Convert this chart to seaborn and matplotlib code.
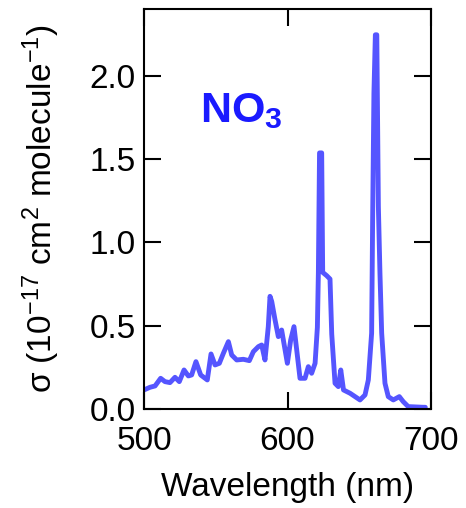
import matplotlib
matplotlib.use('Agg')
import matplotlib.pyplot as plt
import seaborn as sns
import pandas as pd

# NO3 absorption cross section (1e-17 cm2/molecule)
wavelength = [500, 504.2, 507.7, 511.6, 514.6, 518.1, 521.6, 524.6, 527.9, 530.9,
              533.2, 536.2, 539.5, 544.1, 546.7, 549.5, 552.5, 555.3, 558.8, 561.1,
              564.6, 569.2, 573.4, 576.2, 579.7, 582.0, 584.3, 586.6, 587.8, 589.0,
              591.3, 593.6, 595.9, 598.3, 599.9, 602.2, 604.5, 606.4, 608.7, 612.2,
              614.5, 616.8, 619.2, 620.8, 621.5, 622.3, 623.8, 624.5, 627.3, 629.6,
              630.8, 633.1, 635.4, 637.1, 639.0, 643.6, 650.5, 654.0, 656.3, 658.6,
              659.3, 660.2, 661.2, 662.2, 663.3, 664.4, 665.6, 667.9, 670.2, 673.7,
              677.9, 680.6, 684.1, 694.5, 696.0]
sigma = [0.114, 0.130, 0.138, 0.184, 0.164, 0.158, 0.190, 0.164, 0.234, 0.198,
         0.204, 0.284, 0.204, 0.174, 0.330, 0.264, 0.274, 0.334, 0.404, 0.324,
         0.294, 0.298, 0.290, 0.344, 0.374, 0.384, 0.294, 0.494, 0.676, 0.645,
         0.535, 0.434, 0.474, 0.354, 0.274, 0.414, 0.494, 0.354, 0.184, 0.184,
         0.254, 0.214, 0.274, 0.490, 0.820, 1.537, 1.537, 0.820, 0.800, 0.780,
         0.450, 0.154, 0.134, 0.234, 0.114, 0.094, 0.054, 0.084, 0.174, 0.455,
         1.135, 1.896, 2.246, 2.246, 1.215, 0.815, 0.455, 0.154, 0.074, 0.054,
         0.074, 0.044, 0.014, 0.010, 0.010]

df = pd.DataFrame({'wl': wavelength, 'sigma': sigma})

sns.set_style('ticks')
plt.rcParams['font.family'] = ['Liberation Sans', 'DejaVu Sans']
plt.rcParams['mathtext.fontset'] = 'custom'
plt.rcParams['mathtext.rm'] = 'Liberation Sans'
plt.rcParams['mathtext.it'] = 'Liberation Sans:italic'
plt.rcParams['mathtext.bf'] = 'Liberation Sans:bold'
plt.rcParams['text.color'] = 'black'
plt.rcParams['axes.labelcolor'] = 'black'
plt.rcParams['xtick.color'] = 'black'
plt.rcParams['ytick.color'] = 'black'
plt.rcParams['axes.edgecolor'] = 'black'

fig = plt.figure(figsize=(4.66, 5.08), dpi=100)
ax = fig.add_axes([0.309, 0.195, 0.616, 0.787])

sns.lineplot(data=df, x='wl', y='sigma', ax=ax, color='#5555ff', lw=3.5)

ax.set_xlim(500, 700)
ax.set_ylim(0, 2.4)
ax.set_xticks([500, 600, 700])
ax.set_yticks([0.0, 0.5, 1.0, 1.5, 2.0])
ax.set_yticklabels(['0.0', '0.5', '1.0', '1.5', '2.0'])
ax.tick_params(axis='both', direction='in', length=12, width=1.5, labelsize=24,
               top=True, right=True)
ax.tick_params(axis='x', pad=12)
ax.tick_params(axis='y', pad=6)
for s in ax.spines.values():
    s.set_linewidth(1.5)

ax.set_xlabel('Wavelength (nm)', fontsize=24, labelpad=11)
ax.set_ylabel('σ (10$^{-17}$ cm$^{2}$ molecule$^{-1}$)', fontsize=24, labelpad=20)

ax.text(539, 1.72, 'NO$_\\mathbf{3}$', fontsize=31, fontweight='bold', color='#1a1aff')

fig.savefig('out.png', dpi=100)
